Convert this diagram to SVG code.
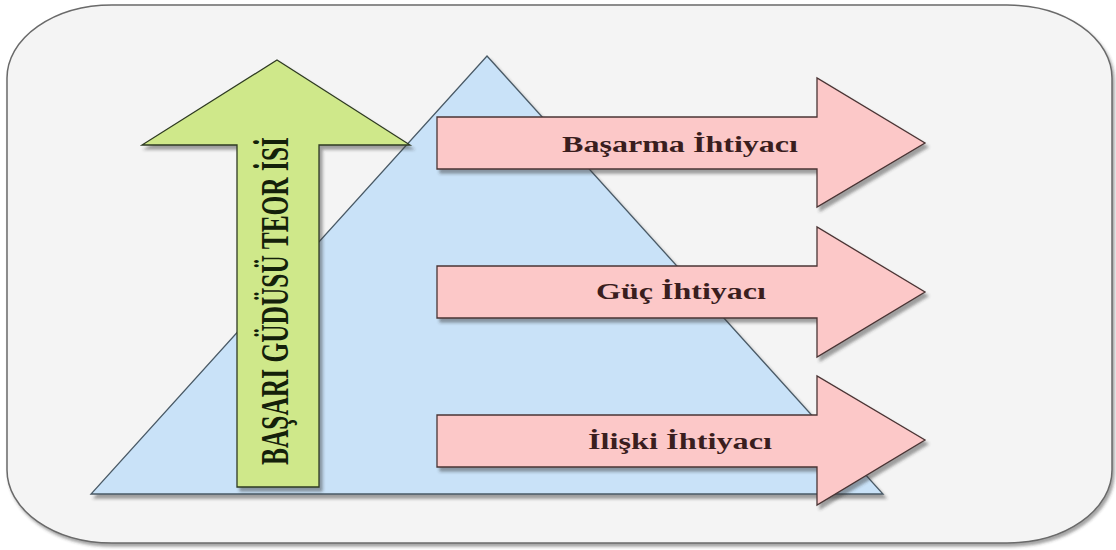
<svg xmlns="http://www.w3.org/2000/svg" width="1116" height="550" viewBox="0 0 1116 550">
  <defs>
    <filter id="sh" x="-10%" y="-10%" width="130%" height="130%">
      <feDropShadow dx="3" dy="4" stdDeviation="1.5" flood-color="#333" flood-opacity="0.45"/>
    </filter>
    <filter id="shOuter" x="-5%" y="-5%" width="110%" height="110%">
      <feDropShadow dx="2" dy="3" stdDeviation="1.5" flood-color="#333" flood-opacity="0.45"/>
    </filter>
  </defs>
  <style>
    .frame { fill: #f4f4f4; stroke: #6a6a6a; stroke-width: 1.5; }
    .tri { fill: #c9e2f8; stroke: #4a5a66; stroke-width: 1.3; }
    .green { fill: #cfe88a; stroke: #2e3a22; stroke-width: 1.3; }
    .pink { fill: #fcc8c8; stroke: #4a3434; stroke-width: 1.3; }
    .gtxt { font-family: "Liberation Serif", "Times New Roman", serif; font-weight: bold; font-size: 40px; fill: #14200a; }
    .ptxt { font-family: "Liberation Serif", "Times New Roman", serif; font-weight: bold; font-size: 24px; fill: #3a1e1e; text-anchor: middle; }
  </style>
  <rect width="1116" height="550" fill="#ffffff"/>
  <g id="frame">
    <rect class="frame" x="7" y="5" width="1105" height="538" rx="105" ry="73" filter="url(#shOuter)"/>
  </g>
  <g id="pyramid">
    <polygon class="tri" points="487,56 883,494 91,494" filter="url(#sh)"/>
  </g>
  <g id="theory">
    <polygon class="green" points="277,60 410,145 319,145 319,487 237,487 237,145 142,145" filter="url(#sh)"/>
    <text class="gtxt" transform="translate(288,465) rotate(-90)" x="0" y="0" textLength="328" lengthAdjust="spacingAndGlyphs">BAŞARI GÜDÜSÜ TEOR İSİ</text>
  </g>
  <g id="connectors"></g>
  <g id="basarma">
    <polygon class="pink" points="437,117 817,117 817,78 925,143 817,207 817,169 437,169" filter="url(#sh)"/>
    <text class="ptxt" x="680" y="152" textLength="236" lengthAdjust="spacingAndGlyphs">Başarma İhtiyacı</text>
  </g>
  <g id="guc">
    <polygon class="pink" points="437,266 817,266 817,227 925,292 817,357 817,318 437,318" filter="url(#sh)"/>
    <text class="ptxt" x="681" y="299" textLength="170" lengthAdjust="spacingAndGlyphs">Güç İhtiyacı</text>
  </g>
  <g id="iliski">
    <polygon class="pink" points="437,415 817,415 817,376 925,440 817,505 817,467 437,467" filter="url(#sh)"/>
    <text class="ptxt" x="680" y="449" textLength="184" lengthAdjust="spacingAndGlyphs">İlişki İhtiyacı</text>
  </g>
</svg>
